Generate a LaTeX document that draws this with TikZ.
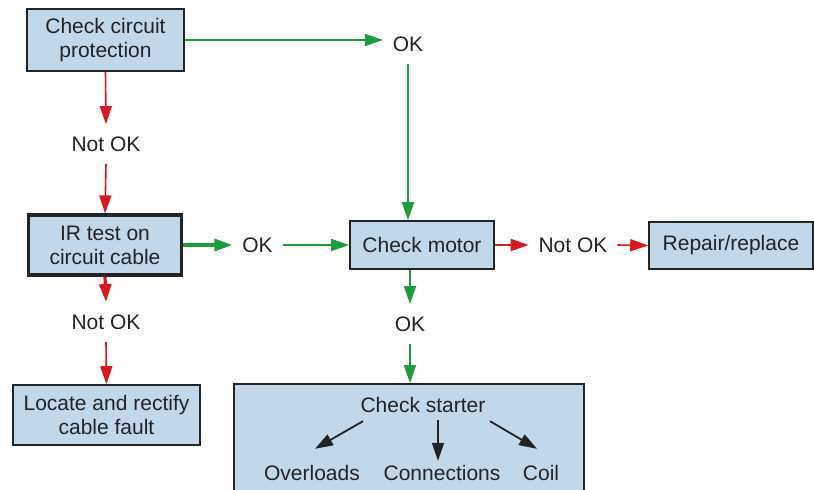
\documentclass[tikz,border=0pt]{standalone}
\usepackage{fontspec}
\setmainfont{Liberation Sans}
\usetikzlibrary{arrows.meta}
\definecolor{boxblue}{RGB}{193,216,235}
\definecolor{okgreen}{RGB}{30,155,60}
\definecolor{nokred}{RGB}{218,22,32}
\definecolor{txtgray}{RGB}{35,35,35}

\begin{document}
\begin{tikzpicture}[x=0.5pt, y=-0.5pt,
    font=\fontsize{10.5}{12}\selectfont, text=txtgray,
    box/.style={draw=txtgray, line width=0.8pt, fill=boxblue, align=center, inner sep=0pt},
    lbl/.style={inner xsep=4.75pt, inner ysep=6pt, text height=7.5pt, text depth=0pt},
    okarrow/.style={-{Triangle[length=9pt,width=6pt]}, okgreen, line width=0.8pt},
    nokarrow/.style={-{Triangle[length=9pt,width=6pt]}, nokred, line width=0.8pt},
    subarrow/.style={-{Triangle[length=9pt,width=6pt]}, txtgray, line width=0.9pt}]
    \useasboundingbox (0,0) rectangle (814,490);

    % 方框
    \node[box, minimum width=78.5pt, minimum height=31pt] (prot) at (105.5,40) {Check circuit\\protection};
    \node[box, line width=1.6pt, minimum width=76.5pt, minimum height=30pt] (ir) at (105,245) {IR test on\\circuit cable};
    \node[box, minimum width=72pt, minimum height=24pt] (motor) at (422,245) {Check motor};
    \node[box, minimum width=82pt, minimum height=23.5pt] (repair) at (731,245.5) {Repair/replace};
    \node[box, minimum width=93.5pt, minimum height=30pt] (locate) at (106.5,415) {Locate and rectify\\cable fault};
    \node[box, minimum width=175pt, minimum height=60pt] (starter) at (409,444) {};

    % 判断结果
    \node[lbl] (okA) at (408,44) {OK};
    \node[lbl] (nokA) at (106,144) {Not OK};
    \node[lbl] (okB) at (257.5,245) {OK};
    \node[lbl] (nokB) at (573,245) {Not OK};
    \node[lbl] (nokC) at (106,322) {Not OK};
    \node[lbl] (okC) at (410,324) {OK};

    % 起动器检查项
    \node (cs) at (423,405) {Check starter};
    \node (ovl) at (312,473) {Overloads};
    \node (conn) at (442,473) {Connections};
    \node (coil) at (541,473) {Coil};

    % 箭头
    \draw[okarrow] (prot.east) -- (prot.east -| okA.west);
    \draw[okarrow] (okA.south) -- (okA.south |- motor.north);
    \draw[nokarrow] (prot.south) -- (nokA.north);
    \draw[nokarrow] (nokA.south) -- (ir.north);
    \draw[okarrow, line width=1.6pt] (ir.east) -- (okB.west);
    \draw[okarrow] (okB.east) -- (motor.west);
    \draw[nokarrow] (motor.east) -- (nokB.west);
    \draw[nokarrow] (nokB.east) -- (repair.west);
    \draw[nokarrow, line width=1.6pt] (ir.south) -- (nokC.north);
    \draw[nokarrow] (nokC.south) -- (locate.north);
    \draw[okarrow] (okC.north |- motor.south) -- (okC.north);
    \draw[okarrow] (okC.south) -- (okC.south |- starter.north);

    \draw[subarrow] ([xshift=4.75pt,yshift=-0.7pt]cs.south west) -- ([xshift=1.5pt,yshift=4.7pt]ovl.north);
    \draw[subarrow] ([xshift=-2pt]cs.south -| conn.north) -- ([xshift=-2pt,yshift=-1.3pt]conn.north);
    \draw[subarrow] ([xshift=-1.25pt,yshift=-0.7pt]cs.south east) -- ([xshift=-2pt,yshift=4.7pt]coil.north);
\end{tikzpicture}
\end{document}
